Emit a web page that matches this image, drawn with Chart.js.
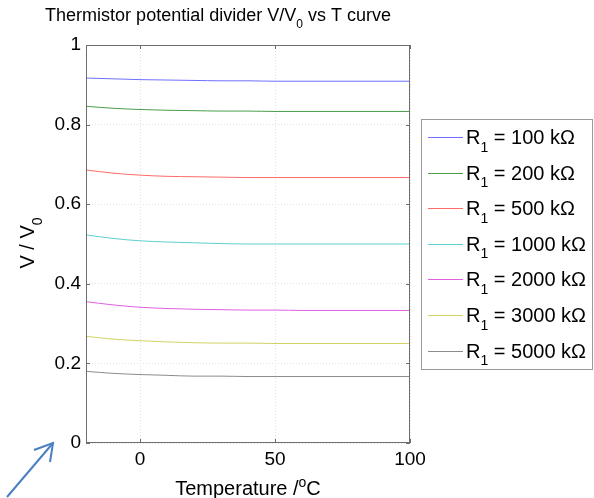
<!DOCTYPE html>
<html>
<head>
<meta charset="utf-8">
<script src="https://cdn.jsdelivr.net/npm/chart.js@4"></script>
<style>
  body { margin: 0; background: #fff; }
  canvas { display: block; }
</style>
</head>
<body>
<canvas id="thermChart" width="594" height="498"></canvas>
<script>
// Temperatures (deg C) and V/V0 curves
const temps = [-20, -10, 0, 10, 20, 30, 40, 50, 60, 70, 80, 90, 100];
const r1Values = ['100', '200', '500', '1000', '2000', '3000', '5000'];
const v100  = [0.917, 0.915, 0.913, 0.912, 0.911, 0.910, 0.910, 0.909, 0.909, 0.909, 0.909, 0.909, 0.909];
const v200  = [0.846, 0.841, 0.838, 0.836, 0.835, 0.834, 0.834, 0.833, 0.833, 0.833, 0.833, 0.833, 0.833];
const v500  = [0.686, 0.678, 0.673, 0.670, 0.669, 0.668, 0.667, 0.667, 0.667, 0.667, 0.667, 0.667, 0.667];
const v1000 = [0.523, 0.514, 0.508, 0.505, 0.503, 0.501, 0.500, 0.500, 0.500, 0.500, 0.500, 0.500, 0.500];
const v2000 = [0.355, 0.347, 0.341, 0.338, 0.336, 0.335, 0.334, 0.334, 0.333, 0.333, 0.333, 0.333, 0.333];
const v3000 = [0.268, 0.261, 0.257, 0.254, 0.252, 0.251, 0.251, 0.250, 0.250, 0.250, 0.250, 0.250, 0.250];
const v5000 = [0.180, 0.175, 0.172, 0.170, 0.168, 0.168, 0.167, 0.167, 0.167, 0.167, 0.167, 0.167, 0.167];
const xTicks = [0, 50, 100];
const yTicks = [0, 0.2, 0.4, 0.6, 0.8, 1];

const seriesData = [v100, v200, v500, v1000, v2000, v3000, v5000];
const lineColors = ['#6f6fff', '#4c9c4c', '#ff6a6a', '#5ccfcf', '#e060e0', '#d2d264', '#8c8c8c'];
const FONT = '"Liberation Sans", Arial, sans-serif';

const datasets = seriesData.map((vals, i) => ({
    label: 'R1 = ' + r1Values[i] + ' kΩ',
    data: temps.map((t, j) => ({ x: t, y: vals[j] })),
    borderColor: lineColors[i],
    borderWidth: 1,
    pointRadius: 0,
    cubicInterpolationMode: 'monotone',
    fill: false
}));

// draw a string with a sub/superscript part: parts = [[text, 'n'|'sub'|'sup'], ...]
function drawRich(ctx, parts, x, y, size, align) {
    let widths = parts.map(p => {
        ctx.font = (p[1] === 'n' ? size : Math.round(size * 0.68)) + 'px ' + FONT;
        return ctx.measureText(p[0]).width;
    });
    let total = widths.reduce((a, b) => a + b, 0);
    let cx = align === 'center' ? x - total / 2 : x;
    ctx.textAlign = 'left';
    ctx.textBaseline = 'alphabetic';
    parts.forEach((p, i) => {
        let dy = 0;
        if (p[1] === 'sub') dy = size * 0.38;
        if (p[1] === 'sup') dy = -size * 0.42;
        ctx.font = (p[1] === 'n' ? size : Math.round(size * 0.68)) + 'px ' + FONT;
        ctx.fillText(p[0], cx, y + dy);
        cx += widths[i];
    });
}

const decorPlugin = {
    id: 'decor',
    afterDraw(chart) {
        const ctx = chart.ctx;
        const area = chart.chartArea;
        const xs = chart.scales.x, ys = chart.scales.y;
        ctx.save();

        // plot box
        ctx.strokeStyle = '#6e6e6e';
        ctx.lineWidth = 1;
        ctx.strokeRect(area.left + 0.5, area.top + 0.5, area.right - area.left - 1, area.bottom - area.top - 1);

        // inward tick marks
        ctx.beginPath();
        xTicks.forEach(v => {
            const px = Math.round(xs.getPixelForValue(v)) + 0.5;
            ctx.moveTo(px, area.bottom); ctx.lineTo(px, area.bottom - 4);
            ctx.moveTo(px, area.top); ctx.lineTo(px, area.top + 4);
        });
        yTicks.forEach(v => {
            const py = Math.round(ys.getPixelForValue(v)) + 0.5;
            ctx.moveTo(area.left, py); ctx.lineTo(area.left + 4, py);
            ctx.moveTo(area.right, py); ctx.lineTo(area.right - 4, py);
        });
        ctx.stroke();

        ctx.fillStyle = '#000';
        // title
        drawRich(ctx, [['Thermistor potential divider V/V', 'n'], ['0', 'sub'], [' vs T curve', 'n']], 218, 21, 18, 'center');
        // x label
        drawRich(ctx, [['Temperature /', 'n'], ['o', 'sup'], ['C', 'n']], 248, 495, 20, 'center');
        // y label (rotated)
        ctx.save();
        ctx.translate(34, 243);
        ctx.rotate(-Math.PI / 2);
        drawRich(ctx, [['V / V', 'n'], ['0', 'sub']], 0, 0, 20, 'center');
        ctx.restore();

        // legend box
        ctx.strokeStyle = '#9a9a9a';
        ctx.strokeRect(421.5, 119.5, 171, 250);
        datasets.forEach((d, i) => {
            const cy = 137 + i * 35.6;
            ctx.strokeStyle = lineColors[i];
            ctx.lineWidth = 1;
            ctx.beginPath();
            ctx.moveTo(428, Math.round(cy) + 0.5);
            ctx.lineTo(463, Math.round(cy) + 0.5);
            ctx.stroke();
            ctx.fillStyle = '#000';
            drawRich(ctx, [['R', 'n'], ['1', 'sub'], [' = ' + r1Values[i] + ' kΩ', 'n']], 466, cy + 7, 20, 'left');
        });

        // blue annotation arrow
        ctx.strokeStyle = '#4a7fc1';
        ctx.lineWidth = 2;
        ctx.beginPath();
        ctx.moveTo(7, 497);
        ctx.lineTo(53, 443);
        ctx.stroke();
        ctx.beginPath();
        ctx.moveTo(34, 450);
        ctx.lineTo(53, 443);
        ctx.lineTo(50, 462);
        ctx.stroke();

        ctx.restore();
    }
};

new Chart(document.getElementById('thermChart'), {
    type: 'line',
    data: { datasets: datasets },
    options: {
        responsive: false,
        animation: false,
        layout: { padding: { left: 0, top: 45, right: 184, bottom: 0 } },
        plugins: {
            legend: { display: false },
            tooltip: { enabled: false }
        },
        scales: {
            x: {
                type: 'linear',
                min: -20,
                max: 100,
                afterBuildTicks(scale) { scale.ticks = xTicks.map(v => ({ value: v })); },
                afterFit(scale) { scale.height = 55; },
                grid: { color: '#e2e2e2', drawTicks: false },
                border: { display: false, dash: [1, 2] },
                ticks: { color: '#000', padding: 5, font: { family: FONT, size: 19 }, maxRotation: 0 }
            },
            y: {
                min: 0,
                max: 1,
                afterBuildTicks(scale) { scale.ticks = yTicks.map(v => ({ value: v })); },
                afterFit(scale) { scale.width = 86; },
                grid: { color: '#e2e2e2', drawTicks: false },
                border: { display: false, dash: [1, 2] },
                ticks: {
                    color: '#000',
                    padding: 5,
                    font: { family: FONT, size: 19 },
                    callback: v => String(Math.round(v * 10) / 10)
                }
            }
        }
    },
    plugins: [decorPlugin]
});
</script>
</body>
</html>
